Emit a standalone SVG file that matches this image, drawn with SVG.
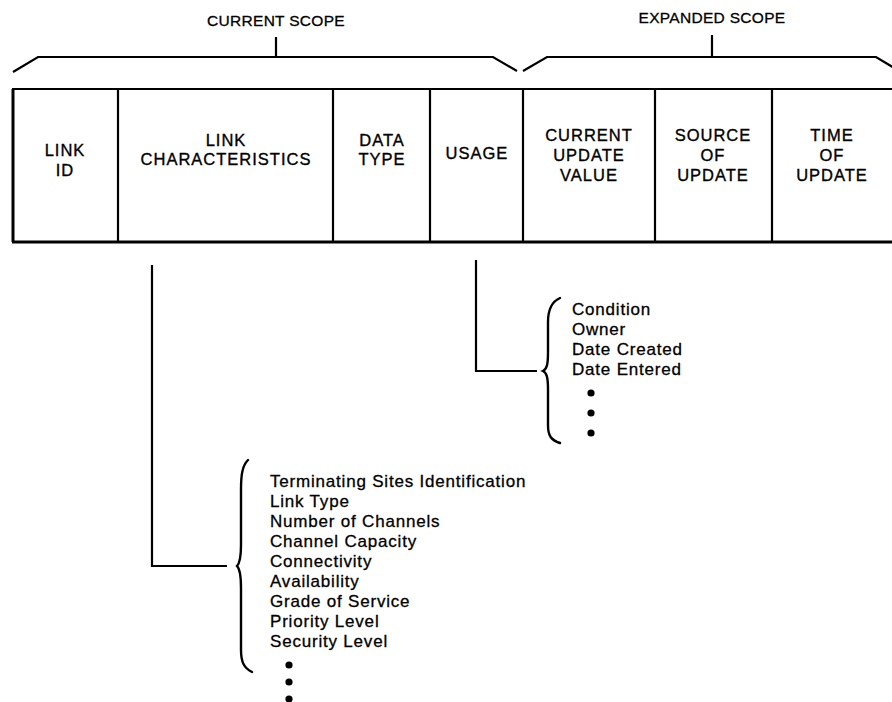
<svg xmlns="http://www.w3.org/2000/svg" width="892" height="702" viewBox="0 0 892 702">
  <style>
    .ln { fill: none; stroke: #000; stroke-width: 2.2; stroke-linecap: butt; stroke-linejoin: miter; }
    .thick { fill: none; stroke: #000; stroke-width: 3; }
    .brace { fill: none; stroke: #000; stroke-width: 2.4; stroke-linecap: round; }
    .hd { font-family: "Liberation Sans", Arial, sans-serif; font-size: 16.5px; letter-spacing: 1px; fill: #000; stroke: #000; stroke-width: 0.35; text-anchor: middle; }
    .scope { font-family: "Liberation Sans", Arial, sans-serif; font-size: 15.5px; letter-spacing: 0.3px; fill: #000; stroke: #000; stroke-width: 0.3; text-anchor: middle; }
    .item { font-family: "Liberation Sans", Arial, sans-serif; font-size: 17px; letter-spacing: 0.8px; fill: #000; stroke: #000; stroke-width: 0.3; }
    .dot { fill: #000; }
  </style>

  <!-- scope brackets above the record layout -->
  <g id="current-scope">
    <text class="scope" x="276" y="26">CURRENT SCOPE</text>
    <path class="ln" d="M276,37 V57 M13,72 L38,57 H493 L517,71"/>
  </g>
  <g id="expanded-scope">
    <text class="scope" x="712" y="23">EXPANDED SCOPE</text>
    <path class="ln" d="M712,35 V57 M523,71 L547,57 H876 L901,72"/>
  </g>

  <!-- record layout: one cell per field -->
  <g id="record">
    <path class="ln" d="M12,89 H892"/>
    <path class="thick" d="M12,242 H892 M13,89 V242"/>
    <path class="ln" d="M118,89 V242 M333,89 V242 M430,89 V242 M523,89 V242 M655,89 V242 M772,89 V242"/>
  </g>
  <g id="field-link-id">
    <text class="hd" x="65" y="156">LINK</text>
    <text class="hd" x="65" y="176">ID</text>
  </g>
  <g id="field-link-characteristics">
    <text class="hd" x="226" y="146">LINK</text>
    <text class="hd" x="226" y="165">CHARACTERISTICS</text>
  </g>
  <g id="field-data-type">
    <text class="hd" x="382" y="146">DATA</text>
    <text class="hd" x="382" y="165">TYPE</text>
  </g>
  <g id="field-usage">
    <text class="hd" x="477" y="159">USAGE</text>
  </g>
  <g id="field-current-update-value">
    <text class="hd" x="589" y="141">CURRENT</text>
    <text class="hd" x="589" y="161">UPDATE</text>
    <text class="hd" x="589" y="181">VALUE</text>
  </g>
  <g id="field-source-of-update">
    <text class="hd" x="713" y="141">SOURCE</text>
    <text class="hd" x="713" y="161">OF</text>
    <text class="hd" x="713" y="181">UPDATE</text>
  </g>
  <g id="field-time-of-update">
    <text class="hd" x="832" y="141">TIME</text>
    <text class="hd" x="832" y="161">OF</text>
    <text class="hd" x="832" y="181">UPDATE</text>
  </g>

  <!-- connectors from fields to their detail lists -->
  <g id="connectors">
    <path class="ln" d="M476,260 V371 H537"/>
    <path class="ln" d="M152,265 V566 H227"/>
  </g>

  <!-- usage details -->
  <g id="usage-details">
    <path class="brace" d="M560,298 C551,302 548,310 548,322 L548,352 C548,364 547,369 543,371 C547,373 548,378 548,390 L548,425 C548,436 551,440 560,443"/>
    <text class="item" x="572" y="315">Condition</text>
    <text class="item" x="572" y="335">Owner</text>
    <text class="item" x="572" y="355">Date Created</text>
    <text class="item" x="572" y="375">Date Entered</text>
    <circle class="dot" cx="591" cy="393" r="3.6"/>
    <circle class="dot" cx="591" cy="413" r="3.6"/>
    <circle class="dot" cx="591" cy="433" r="3.6"/>
  </g>

  <!-- link characteristics details -->
  <g id="characteristics-details">
    <path class="brace" d="M248,460 C242,466 241,476 241,490 L241,545 C241,558 240,563 237,566 C240,569 241,575 241,588 L241,650 C241,662 244,668 252,672"/>
    <text class="item" x="270" y="487">Terminating Sites Identification</text>
    <text class="item" x="270" y="507">Link Type</text>
    <text class="item" x="270" y="527">Number of Channels</text>
    <text class="item" x="270" y="547">Channel Capacity</text>
    <text class="item" x="270" y="567">Connectivity</text>
    <text class="item" x="270" y="587">Availability</text>
    <text class="item" x="270" y="607">Grade of Service</text>
    <text class="item" x="270" y="627">Priority Level</text>
    <text class="item" x="270" y="647">Security Level</text>
    <circle class="dot" cx="289" cy="665" r="3.6"/>
    <circle class="dot" cx="289" cy="682" r="3.6"/>
    <circle class="dot" cx="289" cy="699" r="3.6"/>
  </g>
</svg>
